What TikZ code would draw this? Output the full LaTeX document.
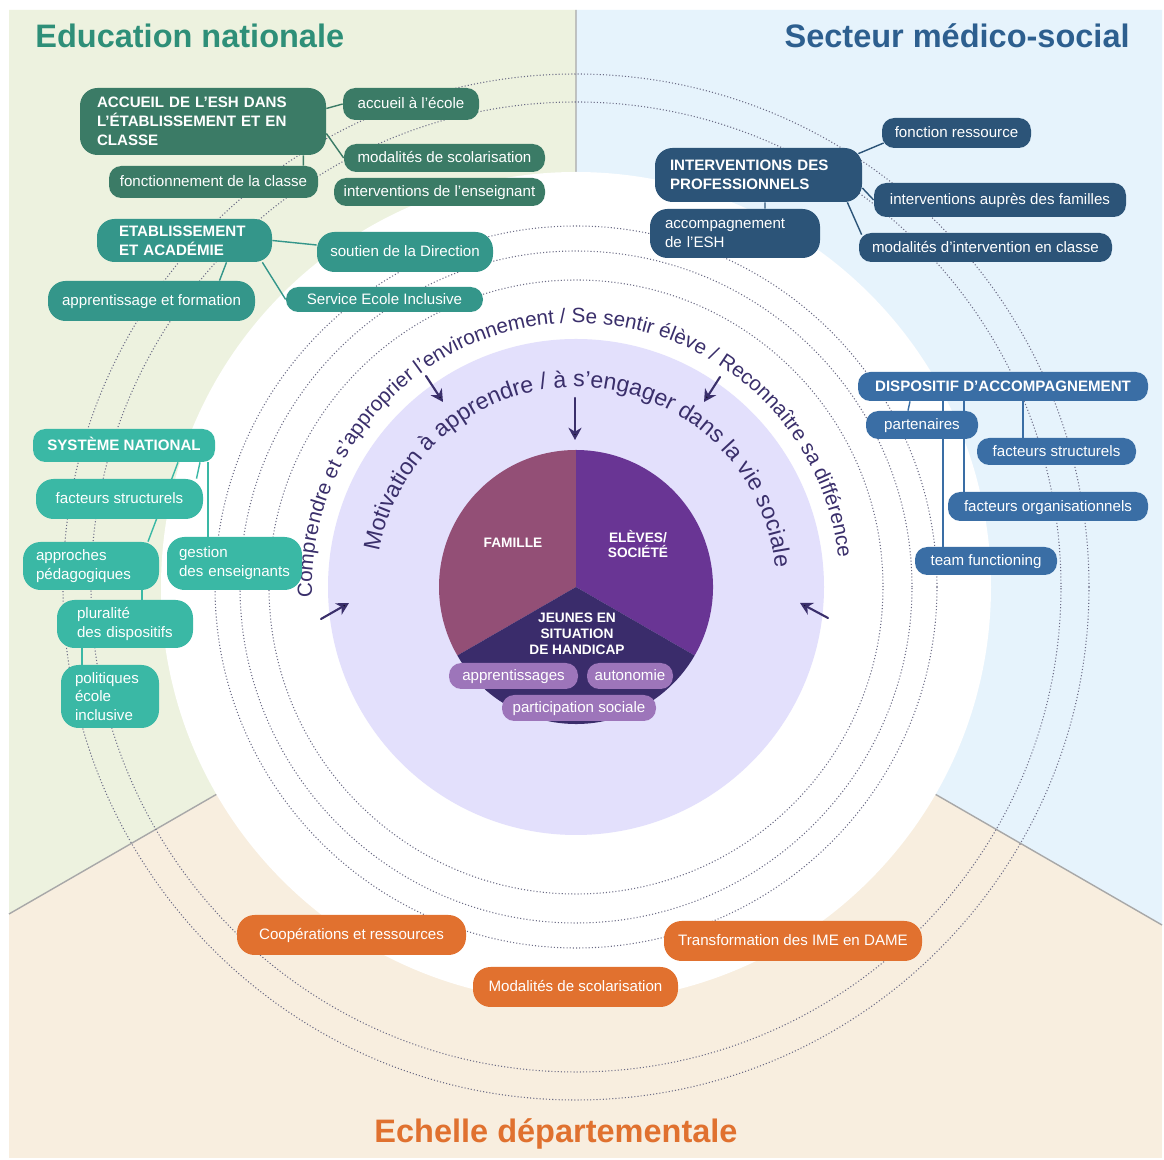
\documentclass[tikz,border=0pt]{standalone}
\usepackage{fontspec}
\setmainfont{Liberation Sans}
\usetikzlibrary{calc,arrows.meta,decorations.text}
\hyphenpenalty=10000
\exhyphenpenalty=10000

\definecolor{bgen}{HTML}{EDF2DF}
\definecolor{bgms}{HTML}{E6F3FC}
\definecolor{bged}{HTML}{F8EEDF}
\definecolor{ten}{HTML}{2E8F78}
\definecolor{tms}{HTML}{2D5F8F}
\definecolor{ted}{HTML}{E0712F}
\definecolor{dkgreen}{HTML}{3B7B66}
\definecolor{mdteal}{HTML}{34968A}
\definecolor{ltteal}{HTML}{3AB8A5}
\definecolor{navy}{HTML}{2C5478}
\definecolor{mdblue}{HTML}{3A6EA5}
\definecolor{orng}{HTML}{E1712F}
\definecolor{lilac}{HTML}{9D75BA}
\definecolor{lav}{HTML}{E3E0FC}
\definecolor{famc}{HTML}{934F76}
\definecolor{elvc}{HTML}{693594}
\definecolor{jeuc}{HTML}{3A2C6B}
\definecolor{ink}{HTML}{3A2F6B}
\definecolor{dotc}{HTML}{6B6B85}
\definecolor{divc}{HTML}{A8A8A8}

\pgfdeclarelayer{back}
\pgfdeclarelayer{links}
\pgfsetlayers{back,links,main}

\tikzset{
  pill/.style={fill=#1, rounded corners=7pt, inner sep=0pt, text=white,
    text height=6.5pt, text depth=1.2pt, font=\fontsize{8.6}{10.7}\selectfont},
  big/.style={pill=#1, rounded corners=10pt},
  multi/.style={text height=, text depth=, align=left},
  hd/.style={font=\bfseries\fontsize{8.6}{10.7}\selectfont},
  sz/.style 2 args={minimum width=#1*0.02cm, minimum height=#2*0.02cm},
  link/.style={draw=#1, line width=0.8pt},
  ring/.style={draw=dotc, line width=0.6pt, dash pattern=on 0.6pt off 1.2pt},
  divider/.style={draw=divc, line width=0.8pt},
  pointer/.style={draw=ink, line width=1.2pt, -{Stealth[length=7pt,width=7.5pt]}},
  pielbl/.style={text=white, font=\bfseries\fontsize{7.8}{9.1}\selectfont, align=center, inner sep=0pt},
  ttl/.style={inner sep=0pt, font=\bfseries\fontsize{18.5}{22}\selectfont}
}

\begin{document}
\begin{tikzpicture}[x=0.02cm,y=0.02cm,line join=round,line cap=round]
  \useasboundingbox (0,0) rectangle (1164,1160);
  \coordinate (C) at (576,573);
  % sectors, rings and the core
  \begin{pgfonlayer}{back}
    \fill[white] (0,0) rectangle (1164,1160);
    \fill[bged] (9,2) rectangle (1162,1150);
    \fill[bgen] (C) -- (9,246) -- (9,1150) -- (576,1150) -- cycle;
    \fill[bgms] (C) -- (1162,235) -- (1162,1150) -- (576,1150) -- cycle;
    \draw[divider] (C) -- (9,246) (C) -- (1162,235) (C) -- (576,1150);
    \fill[white] (C) circle (415);
    \foreach \r in {307,336,361,485,513}
      \draw[ring] (C) circle (\r);
    \fill[lav] (C) circle (248);
    \fill[famc] (C) -- ++(90:137) arc[start angle=90,end angle=210,radius=137] -- cycle;
    \fill[elvc] (C) -- ++(-30:137) arc[start angle=-30,end angle=90,radius=137] -- cycle;
    \fill[jeuc] (C) -- ++(210:137) arc[start angle=210,end angle=330,radius=137] -- cycle;
    \path[decorate,decoration={text along path,text align=center,text color=ink,
      text={|\fontsize{11.75}{14}\selectfont|Comprendre et s'approprier l'environnement / Se sentir élève / Reconnaître sa différence}}]
      ($(C)+(189.3:264)$) arc[start angle=189.3,end angle=-0.7,radius=264];
    \path[decorate,decoration={text along path,text align=center,text color=ink,
      text={|\fontsize{13.2}{16}\selectfont|Motivation à apprendre / à s’engager dans la vie sociale}}]
      ($(C)+(175.7:200)$) arc[start angle=175.7,end angle=-0.3,radius=200];
  \end{pgfonlayer}
  \draw[pointer] (426,784) -- (443,758);
  \draw[pointer] (575,762) -- (575,720);
  \draw[pointer] (720,783) -- (704,758);
  \draw[pointer] (321,541) -- (349,557);
  \draw[pointer] (828,542) -- (800,557);

  % titles
  \node[ttl,text=ten,anchor=base west] (tEN) at (35,1112) {Education nationale};
  \node[ttl,text=tms,anchor=base east] (tMS) at (1130,1112) {Secteur médico-social};
  \node[ttl,text=ted,anchor=base] (tED) at (556,17) {Echelle départementale};

  % core
  \node[pielbl] (fam) at (513,617) {FAMILLE};
  \node[pielbl] (elv) at (638,616) {ELÈVES/\\SOCIÉTÉ};
  \node[pielbl] (jeu) at (577,526) {JEUNES EN\\SITUATION\\DE HANDICAP};
  \node[pill=lilac,sz={129}{26}] (appg) at (513.5,484) {apprentissages};
  \node[pill=lilac,sz={86}{26}] (auto) at (630,484) {autonomie};
  \node[pill=lilac,sz={154}{26}] (psoc) at (579,452) {participation sociale};

  % Education nationale
  \node[big=dkgreen,hd,multi,sz={246}{67},text width=4.24cm,inner xsep=0.34cm] (acc) at (203,1038.5)
    {ACCUEIL DE L’ESH DANS\\L’ÉTABLISSEMENT ET EN\\CLASSE};
  \node[pill=dkgreen,sz={136}{32}] (accE) at (411,1056) {accueil à l'école};
  \node[pill=dkgreen,sz={201}{28}] (modS) at (444.5,1002) {modalités de scolarisation};
  \node[pill=dkgreen,sz={209}{32}] (fonc) at (213.5,978) {fonctionnement de la classe};
  \node[pill=dkgreen,sz={211}{28}] (intE) at (439.5,968) {interventions de l'enseignant};
  \node[big=mdteal,hd,multi,sz={175}{43},text width=2.62cm,inner xsep=0.44cm] (etab) at (184.5,919.5)
    {ETABLISSEMENT\\ET ACADÉMIE};
  \node[big=mdteal,sz={176}{40}] (sout) at (405,908) {soutien de la Direction};
  \node[pill=mdteal,sz={197}{25}] (sei) at (384.5,860.5) {Service Ecole Inclusive};
  \node[big=mdteal,sz={207}{40}] (appf) at (151.5,859) {apprentissage et formation};
  \node[pill=ltteal,hd,sz={182}{33}] (sysn) at (124,714.5) {SYSTÈME NATIONAL};
  \node[big=ltteal,sz={167}{40}] (facs) at (119.5,661) {facteurs structurels};
  \node[big=ltteal,multi,sz={136}{48},text width=2.2cm,inner xsep=0.26cm] (appr) at (91,594)
    {approches\\pédagogiques};
  \node[big=ltteal,multi,sz={135}{53},text width=2.22cm,inner xsep=0.24cm] (gest) at (234.5,596.5)
    {gestion\\des~enseignants};
  \node[big=ltteal,multi,sz={136}{48},text width=1.92cm,inner xsep=0.4cm] (plur) at (125,536)
    {pluralité\\des~dispositifs};
  \node[big=ltteal,multi,sz={98}{63},text width=1.4cm,inner xsep=0.28cm] (poli) at (110,463.5)
    {politiques\\école\\inclusive};

  % Secteur medico-social
  \node[big=navy,hd,multi,sz={207}{54},text width=3.54cm,inner xsep=0.3cm] (intp) at (758.5,985)
    {INTERVENTIONS DES\\PROFESSIONNELS};
  \node[pill=navy,sz={149}{30}] (fres) at (956.5,1027) {fonction ressource};
  \node[pill=navy,sz={252}{34}] (ifam) at (1000,960) {interventions auprès des familles};
  \node[big=navy,multi,sz={170}{49},text width=2.8cm,inner xsep=0.3cm] (aesh) at (735,926.5)
    {accompagnement\\de l'ESH};
  \node[pill=navy,sz={253}{29}] (mdic) at (985.5,912.5) {modalités d'intervention en classe};
  \node[pill=mdblue,hd,sz={290}{29}] (disp) at (1003,773.5) {DISPOSITIF D'ACCOMPAGNEMENT};
  \node[pill=mdblue,sz={112}{28}] (part) at (922,735) {partenaires};
  \node[pill=mdblue,sz={159}{27}] (fst2) at (1056.5,708.5) {facteurs structurels};
  \node[pill=mdblue,sz={200}{29}] (forg) at (1048,653.5) {facteurs organisationnels};
  \node[pill=mdblue,sz={142}{28}] (team) at (986,599) {team functioning};

  % Echelle departementale
  \node[big=orng,sz={229}{40}] (coop) at (351.5,225) {Coopérations et ressources};
  \node[big=orng,sz={205}{40}] (mods) at (575.5,173) {Modalités de scolarisation};
  \node[big=orng,sz={258}{40}] (trans) at (793,219) {Transformation des IME en DAME};

  % connectors
  \begin{pgfonlayer}{links}
    \draw[link=dkgreen] ($(acc.east)+(0,13)$) -- (accE.west);
    \draw[link=dkgreen] ($(acc.east)+(0,-12)$) -- (modS.west);
    \draw[link=dkgreen] ($(acc.south east)+(-23,0)$) -- ($(fonc.north east)+(-15,0)$);
    \draw[link=mdteal] (etab.east) -- ($(sout.west)+(0,7)$);
    \draw[link=mdteal] ($(etab.south east)+(-10,0)$) -- (sei.west);
    \draw[link=mdteal] ($(etab.south)+(42,0)$) -- ($(appf.north)+(68,0)$);
    \draw[link=ltteal] ($(sysn.south)+(76,0)$) -- ($(facs.north)+(77,0)$);
    \draw[link=ltteal] ($(sysn.south)+(54,0)$) -- ($(appr.north)+(57,0)$);
    \draw[link=ltteal] ($(sysn.south)+(84,0)$) -- ($(gest.north)+(-26.5,0)$);
    \draw[link=ltteal] ($(appr.south)+(51,0)$) -- ($(plur.north)+(17,0)$);
    \draw[link=ltteal] ($(plur.south)+(-43,0)$) -- ($(poli.north)+(-28,0)$);
    \draw[link=navy] ($(intp.north east)+(-4,-6)$) -- ($(fres.west)+(2,-10)$);
    \draw[link=navy] ($(intp.east)+(0,-13)$) -- (ifam.west);
    \draw[link=navy] ($(intp.south east)+(-15,0)$) -- ($(mdic.north west)+(3,-2)$);
    \draw[link=navy] ($(intp.south)+(6.5,0)$) -- ($(aesh.north)+(30,0)$);
    \draw[link=mdblue] ($(disp.south)+(-93,0)$) -- ($(part.north)+(-14,0)$);
    \draw[link=mdblue] ($(disp.south)+(-60,0)$) -- ($(team.north)+(-43,0)$);
    \draw[link=mdblue] ($(disp.south)+(-39,0)$) -- ($(forg.north)+(-84,0)$);
    \draw[link=mdblue] ($(disp.south)+(20,0)$) -- ($(fst2.north)+(-33.5,0)$);
  \end{pgfonlayer}
\end{tikzpicture}
\end{document}
